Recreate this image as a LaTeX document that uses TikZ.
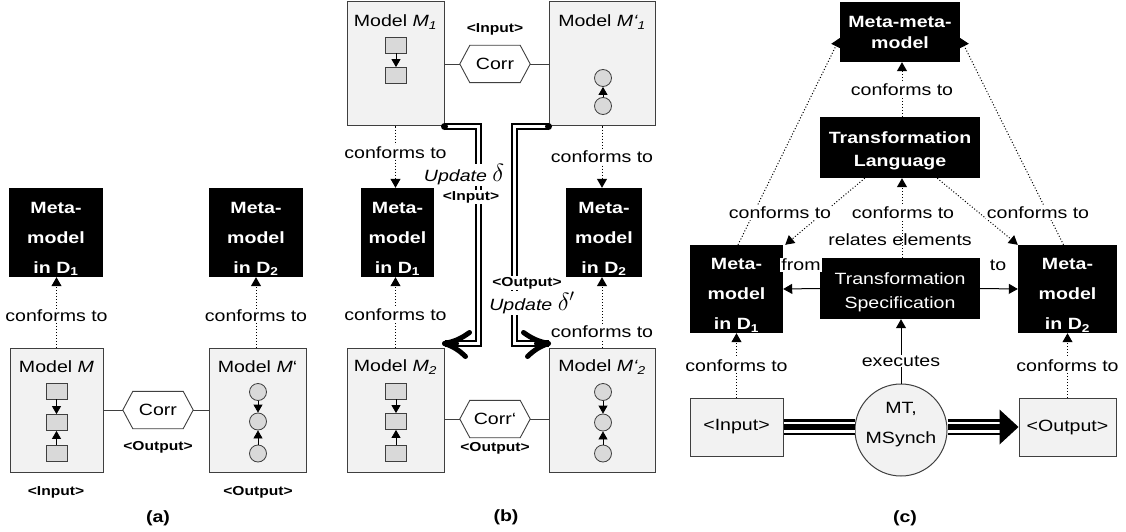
\documentclass[tikz,border=0pt]{standalone}
\usepackage{fontspec}
\setmainfont[FakeStretch=1.2]{Liberation Sans}
\usetikzlibrary{arrows.meta,calc}
\definecolor{boxline}{HTML}{3F3F3F}
\definecolor{boxfill}{HTML}{F2F2F2}
\definecolor{itemfill}{HTML}{D9D9D9}
\newcommand{\fmain}{\fontsize{16.3}{19}\selectfont}
\newcommand{\fsm}{\fontsize{13}{15}\selectfont}
\newcommand{\up}[1]{\rule{0pt}{#1}}
\newcommand{\dn}[1]{\rule[-#1]{0pt}{0pt}}
\newcommand{\hexdraw}[1]{\draw[boxline,line width=0.9pt] (#1.west) -- ([xshift=10pt]#1.north west) -- ([xshift=-10pt]#1.north east) -- (#1.east) -- ([xshift=-10pt]#1.south east) -- ([xshift=10pt]#1.south west) -- cycle;}
\begin{document}
\begin{tikzpicture}[x=1pt,y=-1pt,
  mbox/.style={fill=black, text=white, font=\bfseries\fontsize{16.3}{30}\selectfont, align=center, inner sep=0pt},
  modelbox/.style={draw=boxline, fill=boxfill, line width=1pt, inner sep=0pt},
  sq/.style={draw=boxline, fill=itemfill, minimum width=21pt, minimum height=16pt, inner sep=0pt, line width=0.8pt},
  itm/.style={circle, draw=boxline, fill=itemfill, minimum size=17pt, inner sep=0pt, line width=0.8pt},
  inarrow/.style={-{Triangle[length=8pt,width=9pt]}, line width=0.8pt},
  conf/.style={dash pattern=on 1pt off 2pt, line width=1pt, -{Triangle[length=9pt,width=10pt]}},
  solidarr/.style={line width=1pt, -{Triangle[length=9pt,width=10pt]}},
  lbl/.style={font=\fmain, fill=white, inner sep=1pt},
  plain/.style={font=\fmain, inner sep=1pt},
  tag/.style={font=\fsm\bfseries, fill=white, inner sep=1pt},
  hexnode/.style={minimum width=70pt, minimum height=37pt, inner sep=0pt, font=\fmain},
  corrline/.style={boxline, line width=0.9pt},
  updline/.style={line width=2pt, double=white, double distance=2.5pt, line join=miter},
  headstyle/.style={line width=5pt, line cap=round, line join=round},
  triple/.style={line width=5.5pt, preaction={draw, line width=2.5pt, double=white, double distance=11pt}},
  caption/.style={font=\fmain\bfseries}
]
\useasboundingbox (0,0) rectangle (1126,532);

%%%%%%%%%% (a)
\node[mbox, minimum width=94pt, minimum height=89pt] (ma1) at (56,232.5) {\up{24pt}Meta-\\model\\in D\textsubscript{1}};
\node[mbox, minimum width=94pt, minimum height=89pt] (ma2) at (256,232.5) {\up{24pt}Meta-\\model\\in D\textsubscript{2}};
\node[modelbox, minimum width=93pt, minimum height=124pt] (mm) at (56.5,410) {};
\node[modelbox, minimum width=97pt, minimum height=124pt] (mmp) at (257.5,410) {};
\node[plain] (mmt) at (56.5,367) {Model \textit{M}};
\node[plain] (mmpt) at (257.5,367) {Model \textit{M}‘};
\node[sq] (sa1) at (56.5,391) {};
\node[sq] (sa2) at (56.5,422.5) {};
\node[sq] (sa3) at (56.5,453) {};
\draw[inarrow] (sa1) -- (sa2);
\draw[inarrow] (sa3) -- (sa2);
\node[itm] (ca1) at (258,392) {};
\node[itm] (ca2) at (258,421.5) {};
\node[itm] (ca3) at (258,453.5) {};
\draw[inarrow] (ca1) -- (ca2);
\draw[inarrow] (ca3) -- (ca2);
\node[hexnode] (corra) at (158,410) {Corr};
\hexdraw{corra}
\draw[corrline] (mm.east) -- (corra.west);
\draw[corrline] (corra.east) -- (mmp.west);
\draw[conf] (mm.north) -- (mm.north |- ma1.south) node[lbl, pos=0.45] (cta1) {conforms to};
\draw[conf] (mmp.north -| ma2.south) -- (ma2.south) node[lbl, pos=0.45] (cta2) {conforms to};
\node[tag] (oa) at (158,447) {<Output>};
\node[tag] (ia) at (56,492) {<Input>};
\node[tag] (oap) at (258,492) {<Output>};
\node[caption] (capa) at (158,518) {(a)};

%%%%%%%%%% (b)
\node[modelbox, minimum width=97pt, minimum height=124pt] (m1) at (395.5,64) {};
\node[modelbox, minimum width=106pt, minimum height=124pt] (m1p) at (602,64) {};
\node[modelbox, minimum width=97pt, minimum height=124pt] (m2) at (395.5,410) {};
\node[modelbox, minimum width=106pt, minimum height=124pt] (m2p) at (602,410) {};
\node[plain] (m1t) at (395.5,22) {Model \textit{M\textsubscript{1}}};
\node[plain] (m1pt) at (602,22) {Model \textit{M‘\textsubscript{1}}};
\node[plain] (m2t) at (395.5,367) {Model \textit{M\textsubscript{2}}};
\node[plain] (m2pt) at (602,367) {Model \textit{M‘\textsubscript{2}}};
\node[mbox, minimum width=73pt, minimum height=89pt] (mb1) at (397.5,232.5) {\up{24pt}Meta-\\model\\in D\textsubscript{1}};
\node[mbox, minimum width=76pt, minimum height=89pt] (mb2) at (604,232.5) {\up{24pt}Meta-\\model\\in D\textsubscript{2}};
% items
\node[sq] (sb1) at (396,45) {};
\node[sq] (sb2) at (396,75.5) {};
\draw[inarrow] (sb1) -- (sb2);
\node[itm] (cb1) at (603,78) {};
\node[itm] (cb2) at (603,106) {};
\draw[inarrow] (cb2) -- (cb1);
\node[sq] (sc1) at (396,391) {};
\node[sq] (sc2) at (396,421.5) {};
\node[sq] (sc3) at (396,453) {};
\draw[inarrow] (sc1) -- (sc2);
\draw[inarrow] (sc3) -- (sc2);
\node[itm] (cc1) at (603,392) {};
\node[itm] (cc2) at (603,422.5) {};
\node[itm] (cc3) at (603,453.5) {};
\draw[inarrow] (cc1) -- (cc2);
\draw[inarrow] (cc3) -- (cc2);
% corr
\node[hexnode] (corrb1) at (495,64) {Corr};
\hexdraw{corrb1}
\draw[corrline] (m1.east |- corrb1) -- (corrb1.west);
\draw[corrline] (corrb1.east) -- (m1p.west |- corrb1);
\node[hexnode] (corrb2) at (495,419) {Corr‘};
\hexdraw{corrb2}
\draw[corrline] (m2.east |- corrb2) -- (corrb2.west);
\draw[corrline] (corrb2.east) -- (m2p.west |- corrb2);
\node[tag] (ib) at (495,29) {<Input>};
\node[tag, fill=none] (ob) at (495,448) {<Output>};
% conforms
\draw[conf] (m1.south) -- (m1.south |- mb1.north) node[lbl, pos=0.42] (ctb1) {conforms to};
\draw[conf] (m1p.south) -- (m1p.south |- mb2.north) node[lbl, pos=0.5] (ctb2) {conforms to};
\draw[conf] (m2.north) -- (m2.north |- mb1.south) node[lbl, pos=0.46] (ctb3) {conforms to};
\draw[conf] (m2p.north) -- (m2p.north |- mb2.south) node[lbl, pos=0.22] (ctb4) {conforms to};
% update arrows
\coordinate (tipL) at ([yshift=4pt]m2.north east);
\coordinate (tipR) at ([yshift=4pt]m2p.north west);
\draw[updline] (m1.south east) -- ++(34,0) |- (tipL);
\draw[updline] (m1p.south west) -- ++(-34,0) |- (tipR);
\fill (m1.south east) circle (3.5pt);
\fill (m1p.south west) circle (3.5pt);
\draw[headstyle] ($(tipL)+(25,-11)$) to[bend left=12] (tipL) to[bend left=12] ($(tipL)+(21,13)$);
\draw[headstyle] (tipL) -- ($(tipL)+(12,0)$);
\draw[headstyle] ($(tipR)+(-25,-11)$) to[bend right=12] (tipR) to[bend right=12] ($(tipR)+(-21,13)$);
\draw[headstyle] (tipR) -- ($(tipR)+(-12,0)$);
\node[plain, fill=white] (upd1) at (464,175) {\textit{Update} {\fontsize{24}{24}\selectfont$\delta$}};
\node[tag] (ib2) at (471,197) {<Input>};
\node[tag] (ob2) at (527,283) {<Output>};
\node[plain, fill=white] (upd2) at (532,303) {\textit{Update} {\fontsize{24}{24}\selectfont$\delta'$}};
\node[caption] (capb) at (506,517) {(b)};

%%%%%%%%%% (c)
\node[mbox, font=\bfseries\fontsize{16.3}{21}\selectfont, minimum width=120pt, minimum height=60pt] (mmm) at (900,32) {Meta-meta-\\model};
\node[mbox, font=\bfseries\fontsize{16.3}{23}\selectfont, minimum width=160pt, minimum height=61pt] (tl) at (900,147.5) {\up{18pt}Transformation\\Language};
\node[mbox, font=\fontsize{16.3}{24}\selectfont, minimum width=160pt, minimum height=61pt] (ts) at (900,288.5) {\up{20pt}Transformation\\Specification};
\node[mbox, minimum width=93pt, minimum height=88pt] (mc1) at (736.5,289) {\up{24pt}Meta-\\model\\in D\textsubscript{1}};
\node[mbox, minimum width=99pt, minimum height=88pt] (mc2) at (1067.5,289) {\up{24pt}Meta-\\model\\in D\textsubscript{2}};
\node[modelbox, minimum width=93pt, minimum height=58pt, font=\fmain] (inp) at (736.5,427) {<Input>};
\node[modelbox, minimum width=97pt, minimum height=58pt, font=\fmain] (outp) at (1067.5,427) {<Output>};
\node[circle, draw=boxline, fill=boxfill, line width=1pt, minimum size=92pt, inner sep=0pt, align=center, font=\fontsize{16.3}{30}\selectfont] (circ) at (901,430) {MT,\\MSynch\dn{15pt}};
% dotted
\draw[conf] ([xshift=1.5pt]mc1.north) -- ([yshift=-6pt]mmm.west);
\draw[conf] ([xshift=-4pt]mc2.north) -- ([yshift=-6pt]mmm.east);
\draw[conf] (tl.north -| 902,0) -- (mmm.south -| 902,0) node[lbl, pos=0.5] (ctc1) {conforms to};
\draw[conf] ([xshift=45pt]tl.south west) -- ([xshift=2pt]mc1.north east);
\draw[conf] ([xshift=-43pt]tl.south east) -- (mc2.north west);
\draw[conf] (ts.north -| 902,0) -- (tl.south -| 902,0);
\node[lbl] (ctc2) at (780,213) {conforms to};
\node[lbl] (ctc3) at (903,213) {conforms to};
\node[lbl] (ctc4) at (1038,213) {conforms to};
\node[plain] (rel) at (900,240) {relates elements};
\node[lbl] (from) at (801,265) {from};
\node[lbl] (to) at (998,265) {to};
\draw[solidarr] (ts.west) -- (mc1.east);
\draw[solidarr] (ts.east) -- (mc2.west);
\draw[solidarr] (circ.north) -- (ts.south -| circ.north) node[lbl, pos=0.35] (exe) {executes};
\draw[conf] (inp.north) -- (mc1.south) node[lbl, pos=0.5] (ctc5) {conforms to};
\draw[conf] (outp.north) -- (mc2.south) node[lbl, pos=0.5] (ctc6) {conforms to};
% triple lines
\draw[triple] (inp.east) -- (inp.east -| circ.west);
\draw[triple] (outp.west -| circ.east) -- ($(outp.west)+(-19,0)$);
\fill (outp.west) -- ($(outp.west)+(-19,-17.5)$) -- ($(outp.west)+(-19,17.5)$) -- cycle;
\node[caption] (capc) at (905,518) {(c)};
\end{tikzpicture}
\end{document}
